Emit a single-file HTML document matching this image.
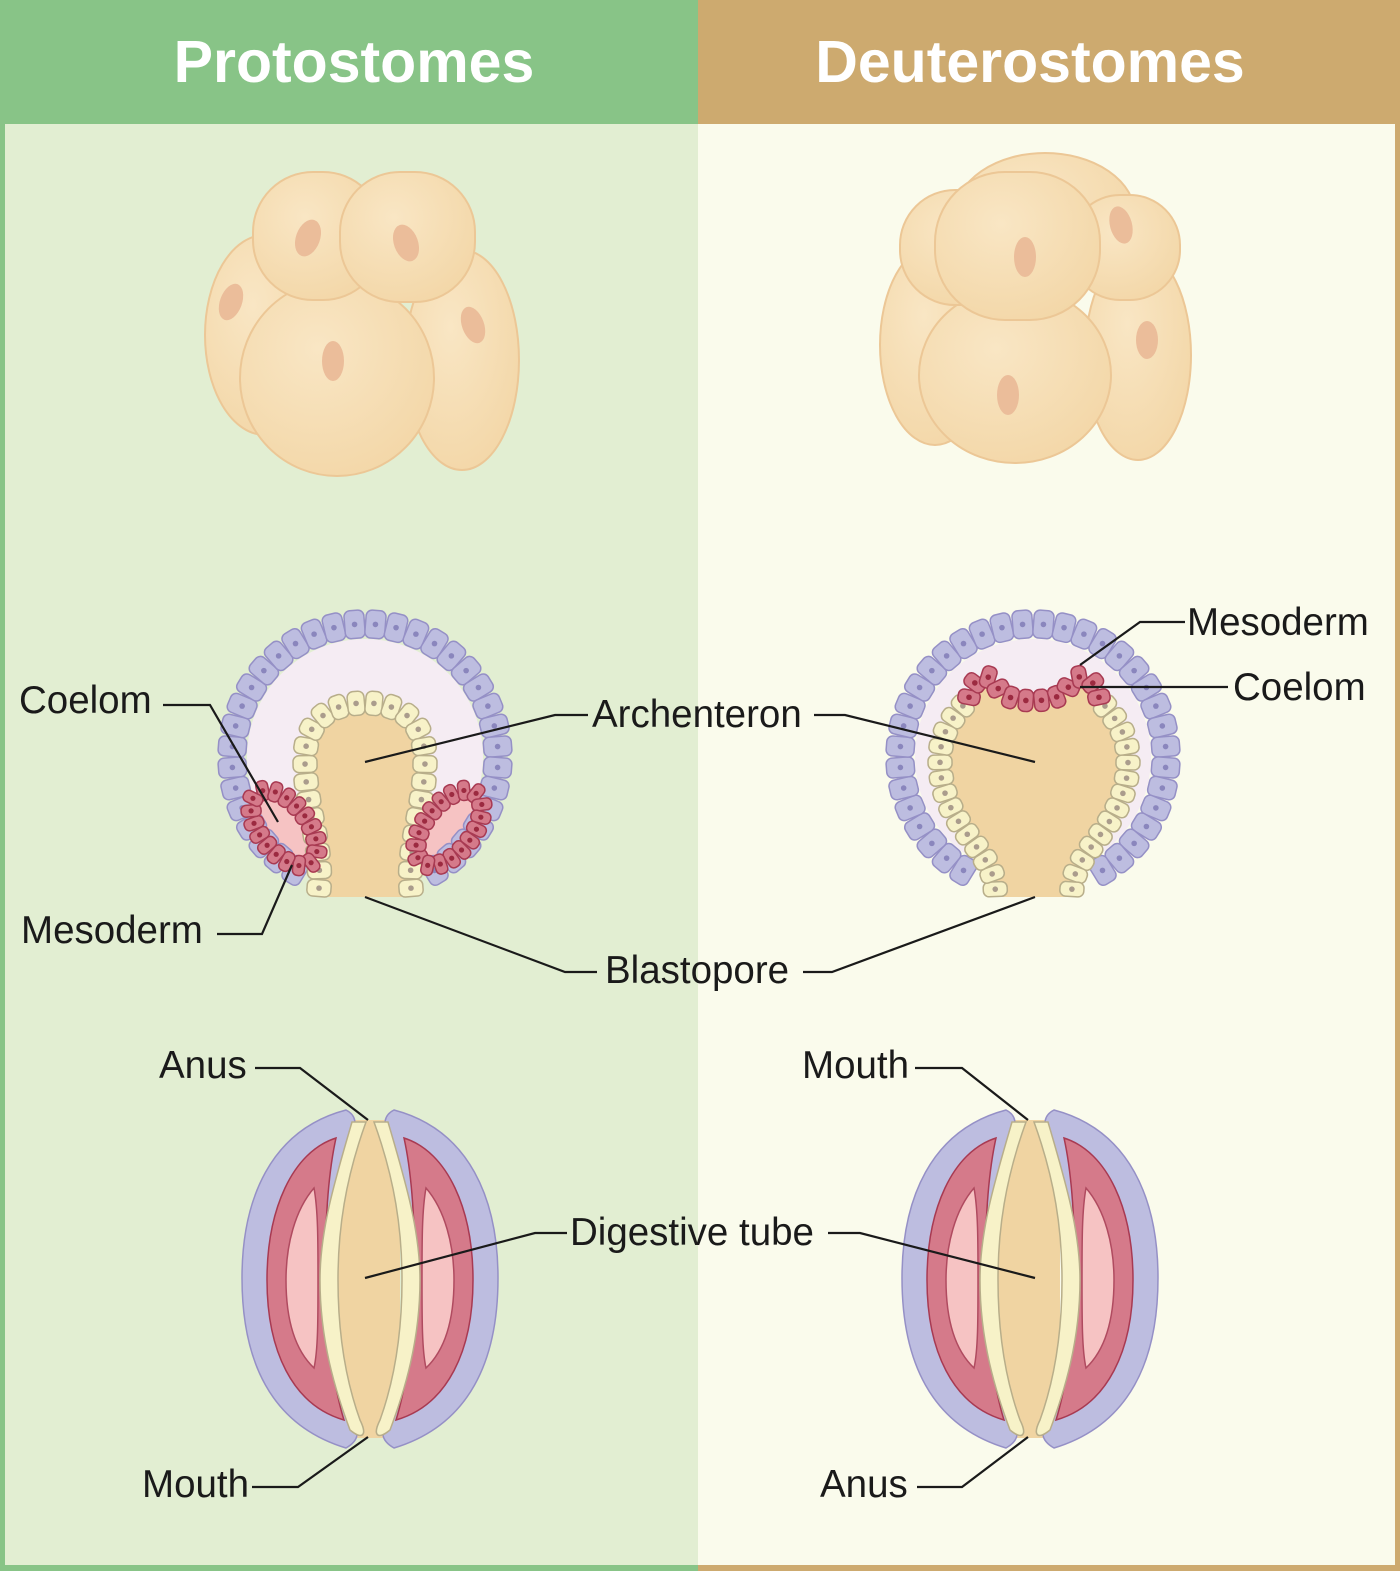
<!DOCTYPE html>
<html><head><meta charset="utf-8"><style>
html,body{margin:0;padding:0;width:1400px;height:1571px;overflow:hidden;background:#fff}
svg{display:block}
text{font-family:"Liberation Sans",sans-serif}
</style></head><body>
<svg id="s" width="1400" height="1571" viewBox="0 0 1400 1571" xmlns="http://www.w3.org/2000/svg">
<defs>
<radialGradient id="eg" cx="0.4" cy="0.35" r="0.7"><stop offset="0" stop-color="#f9e6c4"/><stop offset="1" stop-color="#f3d7a8"/></radialGradient>
</defs>
<rect x="0" y="0" width="698" height="1571" fill="#88c487"/>
<rect x="698" y="0" width="702" height="1571" fill="#cdaa6f"/>
<rect x="5" y="124" width="693" height="1441" fill="#e2eed2"/>
<rect x="698" y="124" width="697" height="1441" fill="#fafbec"/>
<text x="354" y="82" text-anchor="middle" font-size="59" font-weight="bold" fill="#fff">Protostomes</text>
<text x="1030" y="82" text-anchor="middle" font-size="59" font-weight="bold" fill="#fff">Deuterostomes</text>

<g stroke="#ecc796" stroke-width="2" fill="url(#eg)">
<ellipse cx="265" cy="335" rx="60" ry="100"/>
<ellipse cx="462" cy="360" rx="57" ry="110"/>
<ellipse cx="337" cy="378" rx="97" ry="98"/>
<rect x="253" y="172" width="130" height="128" rx="60"/>
<rect x="340" y="172" width="135" height="130" rx="60"/>
<ellipse cx="935" cy="345" rx="55" ry="100"/>
<ellipse cx="1138" cy="355" rx="53" ry="105"/>
<ellipse cx="1015" cy="375" rx="96" ry="88"/>
<ellipse cx="1045" cy="215" rx="90" ry="62"/>
<rect x="900" y="190" width="125" height="115" rx="55"/>
<rect x="1070" y="195" width="110" height="105" rx="50"/>
<rect x="935" y="172" width="165" height="148" rx="70"/>
</g>
<g fill="#ebbd9a">
<ellipse cx="231" cy="302" rx="11" ry="19" transform="rotate(20 231 302)"/>
<ellipse cx="308" cy="238" rx="12" ry="19" transform="rotate(20 308 238)"/>
<ellipse cx="406" cy="243" rx="12" ry="19" transform="rotate(-20 406 243)"/>
<ellipse cx="473" cy="325" rx="11" ry="19" transform="rotate(-20 473 325)"/>
<ellipse cx="333" cy="361" rx="11" ry="20"/>
<ellipse cx="1025" cy="257" rx="11" ry="20"/>
<ellipse cx="1121" cy="225" rx="11" ry="19" transform="rotate(-15 1121 225)"/>
<ellipse cx="1147" cy="340" rx="11" ry="19"/>
<ellipse cx="1008" cy="395" rx="11" ry="20"/>
</g>

<circle cx="365" cy="757" r="118" fill="#f5ecf3"/>
<circle cx="1033" cy="757" r="118" fill="#f5ecf3"/>
<path d="M318 897 C325 850 305 810 305 760 C305 720 330 703 365 703 C400 703 425 720 425 760 C425 810 405 850 412 897 Z" fill="#f0d4a2"/>
<path d="M995 897 C1000 850 940 830 940 760 C940 730 955 715 968 700 C970 675 990 668 998 688 C1005 705 1060 705 1068 688 C1076 668 1098 675 1100 700 C1112 715 1128 730 1128 760 C1128 830 1068 850 1072 897 Z" fill="#f0d4a2"/>
<ellipse cx="284" cy="828" rx="44" ry="24" transform="rotate(52 284 828)" fill="#f6c3c3"/>
<ellipse cx="449" cy="828" rx="44" ry="24" transform="rotate(-52 449 828)" fill="#f6c3c3"/>
<g id="cells"></g>

<g id="body">
<path d="M337 1120 L400 1120 L400 1438 L337 1438 Z" fill="#f0d4a2"/>
<path d="M346 1110 C270 1130 242 1200 242 1278 C242 1360 270 1425 346 1448 C360 1440 360 1430 350 1420 C322 1350 322 1210 350 1135 C358 1125 356 1115 346 1110 Z" fill="#bdbde0" stroke="#9590c6" stroke-width="1.5"/>
<path d="M336 1138 C292 1152 267 1210 267 1280 C267 1350 292 1405 344 1420 C322 1350 320 1210 336 1138 Z" fill="#d57a8a" stroke="#a83a52" stroke-width="1.5"/>
<path d="M314 1188 C295 1210 286 1245 286 1280 C286 1320 295 1350 314 1368 C318 1350 318 1320 318 1280 C318 1240 318 1210 314 1188 Z" fill="#f6c3c3" stroke="#b04b60" stroke-width="1.5"/>
<path d="M352 1122 C335 1180 320 1230 320 1280 C320 1340 335 1390 350 1430 C362 1440 368 1436 360 1420 C342 1370 338 1320 338 1280 C338 1230 345 1180 366 1122 Z" fill="#f7f2c8" stroke="#b8ae8a" stroke-width="1.5"/>
<g transform="translate(740 0) scale(-1 1)">
<path d="M346 1110 C270 1130 242 1200 242 1278 C242 1360 270 1425 346 1448 C360 1440 360 1430 350 1420 C322 1350 322 1210 350 1135 C358 1125 356 1115 346 1110 Z" fill="#bdbde0" stroke="#9590c6" stroke-width="1.5"/>
<path d="M336 1138 C292 1152 267 1210 267 1280 C267 1350 292 1405 344 1420 C322 1350 320 1210 336 1138 Z" fill="#d57a8a" stroke="#a83a52" stroke-width="1.5"/>
<path d="M314 1188 C295 1210 286 1245 286 1280 C286 1320 295 1350 314 1368 C318 1350 318 1320 318 1280 C318 1240 318 1210 314 1188 Z" fill="#f6c3c3" stroke="#b04b60" stroke-width="1.5"/>
<path d="M352 1122 C335 1180 320 1230 320 1280 C320 1340 335 1390 350 1430 C362 1440 368 1436 360 1420 C342 1370 338 1320 338 1280 C338 1230 345 1180 366 1122 Z" fill="#f7f2c8" stroke="#b8ae8a" stroke-width="1.5"/>
</g>
</g>
<use href="#body" transform="translate(660 0)"/>

<g stroke="#1a1a1a" stroke-width="2.2" fill="none">
<polyline points="163,705 210,705 278,822"/>
<polyline points="217,934 262,934 292,865"/>
<polyline points="365,762 555,715 588,715"/>
<polyline points="814,715 845,715 1035,762"/>
<polyline points="365,897 565,972 597,972"/>
<polyline points="803,972 832,972 1035,897"/>
<polyline points="1080,665 1140,622 1185,622"/>
<polyline points="1080,687 1228,687"/>
<polyline points="255,1068 300,1068 368,1120"/>
<polyline points="252,1487 298,1487 368,1437"/>
<polyline points="365,1278 535,1233 567,1233"/>
<polyline points="828,1233 860,1233 1035,1278"/>
<polyline points="915,1068 962,1068 1028,1120"/>
<polyline points="917,1487 962,1487 1028,1437"/>
</g>
<g font-size="38.5" fill="#1a1a1a">
<text x="19" y="713">Coelom</text>
<text x="21" y="943">Mesoderm</text>
<text x="592" y="727">Archenteron</text>
<text x="605" y="983">Blastopore</text>
<text x="1187" y="635">Mesoderm</text>
<text x="1233" y="700">Coelom</text>
<text x="159" y="1078">Anus</text>
<text x="142" y="1497">Mouth</text>
<text x="570" y="1245">Digestive tube</text>
<text x="802" y="1078">Mouth</text>
<text x="820" y="1497">Anus</text>
</g>
</svg>
<script>
(function(){
var NS="http://www.w3.org/2000/svg",svg=document.getElementById("s"),g=document.getElementById("cells");
function along(d,n,th,fill,stroke,nuc){
 var p=document.createElementNS(NS,"path");p.setAttribute("d",d);p.setAttribute("fill","none");svg.appendChild(p);
 var L=p.getTotalLength(),step=L/n;
 for(var i=0;i<n;i++){
  var s=(i+0.5)*step,a=p.getPointAtLength(Math.max(0,s-1)),b=p.getPointAtLength(Math.min(L,s+1)),c=p.getPointAtLength(s);
  var ang=Math.atan2(b.y-a.y,b.x-a.x)*180/Math.PI;
  var r=document.createElementNS(NS,"rect"),w=step-1;
  r.setAttribute("x",-w/2);r.setAttribute("y",-th/2);r.setAttribute("width",w);r.setAttribute("height",th);
  r.setAttribute("rx",Math.min(6,w/2.5));r.setAttribute("fill",fill);r.setAttribute("stroke",stroke);r.setAttribute("stroke-width","1.5");
  r.setAttribute("transform","translate("+c.x+" "+c.y+") rotate("+ang+")");g.appendChild(r);
  var k=document.createElementNS(NS,"circle");k.setAttribute("cx",c.x);k.setAttribute("cy",c.y);k.setAttribute("r",2.8);k.setAttribute("fill",nuc);g.appendChild(k);
 }
 svg.removeChild(p);
}
var P="#bdbde0",PS="#9590c6",PN="#8a86bd",Y="#f7f2c8",YS="#b8ae8a",YN="#aa9c8c",R="#d57a8a",RS="#a83a52",RN="#9c2a40";
function ring(cx){
 var r=133,a1=117*Math.PI/180,a2=63*Math.PI/180;
 var d="M"+(cx+r*Math.cos(a1))+" "+(757+r*Math.sin(a1))+" A"+r+" "+r+" 0 1 1 "+(cx+r*Math.cos(a2))+" "+(757+r*Math.sin(a2));
 along(d,34,28,P,PS,PN);
}
ring(365);ring(1033);
along("M318 897 C325 850 305 810 305 760 C305 720 330 703 365 703 C400 703 425 720 425 760 C425 810 405 850 412 897",26,24,Y,YS,YN);
function ell(cx,cy,rx,ry,rot,n){
 var d="M"+(cx-rx)+" "+cy+" A"+rx+" "+ry+" 0 1 1 "+(cx+rx)+" "+cy+" A"+rx+" "+ry+" 0 1 1 "+(cx-rx)+" "+cy;
 var p=document.createElementNS(NS,"path");p.setAttribute("d",d);svg.appendChild(p);
 var L=p.getTotalLength(),step=L/n;
 for(var i=0;i<n;i++){
  var s=(i+0.5)*step,a=p.getPointAtLength(Math.max(0,s-1)),b=p.getPointAtLength(Math.min(L,s+1)),c=p.getPointAtLength(s);
  var ang=Math.atan2(b.y-a.y,b.x-a.x)*180/Math.PI;
  var q=rot*Math.PI/180,x=cx+(c.x-cx)*Math.cos(q)-(c.y-cy)*Math.sin(q),y=cy+(c.x-cx)*Math.sin(q)+(c.y-cy)*Math.cos(q);
  var r=document.createElementNS(NS,"rect"),w=step-1;
  r.setAttribute("x",-w/2);r.setAttribute("y",-10);r.setAttribute("width",w);r.setAttribute("height",20);r.setAttribute("rx",5);
  r.setAttribute("fill",R);r.setAttribute("stroke",RS);r.setAttribute("stroke-width","1.5");
  r.setAttribute("transform","translate("+x+" "+y+") rotate("+(ang+rot)+")");g.appendChild(r);
  var k=document.createElementNS(NS,"circle");k.setAttribute("cx",x);k.setAttribute("cy",y);k.setAttribute("r",2.6);k.setAttribute("fill",RN);g.appendChild(k);
 }
 svg.removeChild(p);
}
ell(284,828,44,24,52,17);ell(449,828,44,24,-52,17);
along("M995 897 C1000 850 940 830 940 760 C940 730 955 715 968 700",14,24,Y,YS,YN);
along("M1100 700 C1112 715 1128 730 1128 760 C1128 830 1068 850 1072 897",14,24,Y,YS,YN);
along("M968 705 C970 675 990 668 998 688 C1005 705 1060 705 1068 688 C1076 668 1098 675 1100 705",12,22,R,RS,RN);
})();
</script>
</body></html>
